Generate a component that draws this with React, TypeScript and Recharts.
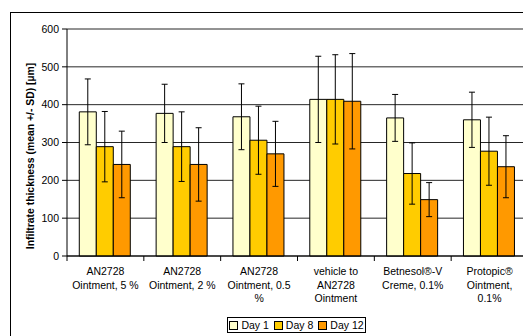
import React from "react";
import { BarChart, Bar, XAxis, YAxis, CartesianGrid, ErrorBar, Label } from "recharts";

const categories = [
  "AN2728\nOintment, 5 %",
  "AN2728\nOintment, 2 %",
  "AN2728\nOintment, 0.5\n%",
  "vehicle to\nAN2728\nOintment",
  "Betnesol®-V\nCreme, 0.1%",
  "Protopic®\nOintment,\n0.1%",
];
const day1 = [381, 377, 368, 414, 365, 360];
const day1Sd = [87, 77, 87, 114, 62, 73];
const day8 = [289, 289, 306, 414, 218, 277];
const day8Sd = [93, 92, 90, 118, 81, 90];
const day12 = [242, 242, 270, 409, 149, 236];
const day12Sd = [88, 97, 86, 126, 45, 82];
const yTicks = [0, 100, 200, 300, 400, 500, 600];
const yTitle = "Infiltrate thickness (mean +/- SD) [µm]";

const seriesNames = ["Day 1", "Day 8", "Day 12"];
const seriesColors = ["#FFFFCC", "#FFCC00", "#FF9900"];

const data = categories.map((name, i) => ({
  name,
  d1: day1[i],
  d1sd: day1Sd[i],
  d8: day8[i],
  d8sd: day8Sd[i],
  d12: day12[i],
  d12sd: day12Sd[i],
}));

const FONT = "'Liberation Sans', Arial, sans-serif";

function CategoryTick(props: any) {
  const { x, y, payload } = props;
  const half = payload.offset ?? 38.4;
  const lines = String(payload.value).split("\n");
  return (
    <g>
      <line x1={x - half} y1={y} x2={x - half} y2={y + 5} stroke="#000" />
      <text x={x} y={y} textAnchor="middle" fontSize={10.5} fill="#000" fontFamily={FONT}>
        {lines.map((l, i) => (
          <tspan key={i} x={x} dy={i === 0 ? 19 : 13.5}>
            {l}
          </tspan>
        ))}
      </text>
    </g>
  );
}

// rotated axis title, placed by hand next to the plot
const YTitle = () => (
  <text
    transform="translate(34,156) rotate(-90)"
    textAnchor="middle"
    fontSize={10.4}
    fontWeight="bold"
    fill="#000"
    fontFamily={FONT}
  >
    {yTitle}
  </text>
);

export default function App() {
  return (
    <div style={{ position: "absolute", left: 0, top: 0, width: 523, height: 336, overflow: "hidden", background: "#fff" }}>
      <div style={{ position: "absolute", left: 10, top: 12, width: 540, height: 340, border: "1.5px solid #000" }} />
      <BarChart
        width={531}
        height={336}
        data={data}
        margin={{ top: 29, right: 3, left: 0, bottom: 0 }}
        barCategoryGap="16%"
        barGap={0}
        style={{ position: "absolute", left: 0, top: 0, fontFamily: FONT }}
      >
        <CartesianGrid vertical={false} stroke="#000" strokeOpacity={0.85} />
        <XAxis
          dataKey="name"
          height={80}
          interval={0}
          tickLine={false}
          tickSize={0}
          tickMargin={0}
          axisLine={{ stroke: "#000" }}
          tick={<CategoryTick />}
        />
        <YAxis
          width={67}
          domain={[0, 600]}
          ticks={yTicks}
          interval={0}
          tickSize={5}
          tickMargin={3}
          axisLine={{ stroke: "#000" }}
          tickLine={{ stroke: "#000" }}
          tick={{ fontSize: 10.5, fill: "#000", fontFamily: FONT }}
        >
          <Label content={<YTitle />} />
        </YAxis>
        <Bar dataKey="d1" name={seriesNames[0]} fill={seriesColors[0]} stroke="#000" strokeWidth={1} isAnimationActive={false}>
          <ErrorBar dataKey="d1sd" width={3} stroke="#000" strokeWidth={1} isAnimationActive={false} />
        </Bar>
        <Bar dataKey="d8" name={seriesNames[1]} fill={seriesColors[1]} stroke="#000" strokeWidth={1} isAnimationActive={false}>
          <ErrorBar dataKey="d8sd" width={3} stroke="#000" strokeWidth={1} isAnimationActive={false} />
        </Bar>
        <Bar dataKey="d12" name={seriesNames[2]} fill={seriesColors[2]} stroke="#000" strokeWidth={1} isAnimationActive={false}>
          <ErrorBar dataKey="d12sd" width={3} stroke="#000" strokeWidth={1} isAnimationActive={false} />
        </Bar>
      </BarChart>
      <div
        style={{
          position: "absolute",
          left: 227,
          top: 317,
          width: 139,
          height: 16,
          boxSizing: "border-box",
          border: "1px solid #000",
          display: "flex",
          alignItems: "center",
          justifyContent: "center",
          gap: 5,
          fontFamily: FONT,
          fontSize: 10.5,
          color: "#000",
        }}
      >
        {seriesNames.map((n, i) => (
          <span key={n} style={{ display: "flex", alignItems: "center", gap: 3 }}>
            <span style={{ width: 7, height: 7, background: seriesColors[i], border: "1px solid #000", display: "inline-block" }} />
            {n}
          </span>
        ))}
      </div>
    </div>
  );
}
